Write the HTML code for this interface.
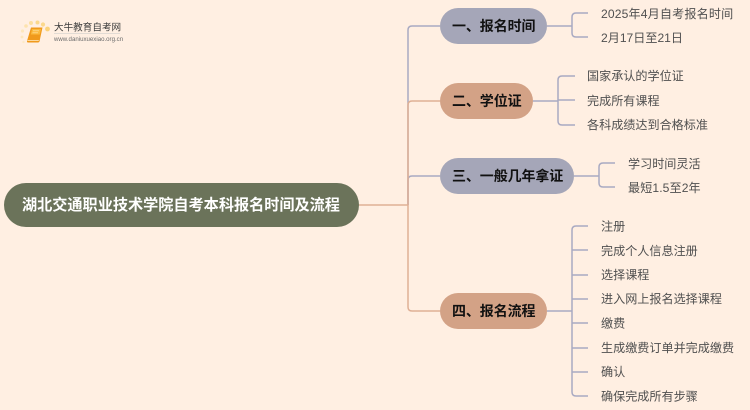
<!DOCTYPE html>
<html lang="zh-CN"><head><meta charset="utf-8"><title>湖北交通职业技术学院自考本科报名时间及流程</title>
<style>
html,body{margin:0;padding:0;background:#ffefe2}
svg{display:block;filter:blur(.3px)}
text{font-family:"Liberation Sans","Noto Sans CJK SC",sans-serif}
.b{font-size:14px;font-weight:700;fill:#111;letter-spacing:-.1px}
.l{font-size:12.100px;fill:#505050}
.g{fill:none;stroke:#a9aac2;stroke-width:1.500}
.o{fill:none;stroke:#dfb095;stroke-width:1.500}
</style></head><body>
<svg width="750" height="410" viewBox="0 0 750 410" xmlns="http://www.w3.org/2000/svg">
<rect width="750" height="410" fill="#ffefe2"/>
<!-- logo -->
<g>
<circle cx="47.500" cy="29" r="2.400" fill="#fbd27a"/><circle cx="43" cy="24.500" r="2.100" fill="#fbd88c"/><circle cx="37.500" cy="22.500" r="2" fill="#fbd88c"/><circle cx="31" cy="23" r="2" fill="#fcdf9f"/><circle cx="26" cy="26" r="1.800" fill="#fde3ae"/><circle cx="22.500" cy="31" r="1.600" fill="#fde7bd"/><circle cx="22" cy="37" r="1.400" fill="#fde7bd"/><circle cx="23.500" cy="42" r="1.200" fill="#fdeac8"/>
<path d="M31 27.500H42.500L39.500 41.500Q39 42.500 38 42.500H28Q26.800 42.500 27 41Z" fill="#f09a1c"/>
<path d="M32 29H41L39.800 34.500H30.800Z" fill="#fbb93c"/>
<path d="M33 30.800H39M32.500 32.800H38" stroke="#fde2a8" stroke-width=".7"/>
<path d="M27.500 40.500H38.800" stroke="#fbd9a0" stroke-width="1"/>
<text x="54" y="30.500" font-size="9.600" fill="#3c3c3c">大牛教育自考网</text>
<path d="M54 33.500H120" stroke="#d9d5cf" stroke-width=".8"/>
<text x="54" y="41" font-size="6.100" fill="#6c6c6c">www.daniuxuexiao.org.cn</text>
</g>
<!-- trunk connectors -->
<path class="g" d="M408 205V30Q408 26 412 26H440"/>
<path class="g" d="M408 205V180Q408 176 412 176H440"/>
<path class="o" d="M408 205V105Q408 101 412 101H440"/>
<path class="o" d="M359 205H408V307Q408 311 412 311H440"/>
<!-- leaf connectors -->
<path class="g" d="M547 26H572M588 13H576Q572 13 572 17V33Q572 37 576 37H588"/>
<path class="g" d="M533 101H558M575 76H562Q558 76 558 80V121Q558 125 562 125H575M558 100H575"/>
<path class="g" d="M574 176H599M615 163H603Q599 163 599 167V183Q599 187 603 187H615"/>
<path class="g" d="M547 311H572M588 226H576Q572 226 572 230V392Q572 396 576 396H588M572 250H588M572 275H588M572 299H588M572 323H588M572 348H588M572 372H588"/>
<!-- root -->
<rect x="4" y="183" width="355" height="44" rx="22" fill="#6b735a"/>
<text x="22" y="210" font-size="15.150" font-weight="700" fill="#fff">湖北交通职业技术学院自考本科报名时间及流程</text>
<!-- branches -->
<rect x="440" y="8" width="107" height="36" rx="18" fill="#a5a6b8"/>
<text class="b" x="452" y="31">一、报名时间</text>
<rect x="440" y="83" width="93" height="36" rx="18" fill="#d3a286"/>
<text class="b" x="452" y="106">二、学位证</text>
<rect x="440" y="158" width="134" height="36" rx="18" fill="#a5a6b8"/>
<text class="b" x="452" y="181">三、一般几年拿证</text>
<rect x="440" y="293" width="107" height="36" rx="18" fill="#d3a286"/>
<text class="b" x="452" y="316">四、报名流程</text>
<!-- leaves -->
<text class="l" x="601" y="18" letter-spacing=".15">2025年4月自考报名时间</text>
<text class="l" x="601" y="42">2月17日至21日</text>
<text class="l" x="587" y="80">国家承认的学位证</text>
<text class="l" x="587" y="105">完成所有课程</text>
<text class="l" x="587" y="129">各科成绩达到合格标准</text>
<text class="l" x="628" y="168">学习时间灵活</text>
<text class="l" x="628" y="192" letter-spacing=".1">最短1.5至2年</text>
<text class="l" x="601" y="230.500">注册</text>
<text class="l" x="601" y="255">完成个人信息注册</text>
<text class="l" x="601" y="279">选择课程</text>
<text class="l" x="601" y="303">进入网上报名选择课程</text>
<text class="l" x="601" y="327.500">缴费</text>
<text class="l" x="601" y="352">生成缴费订单并完成缴费</text>
<text class="l" x="601" y="376">确认</text>
<text class="l" x="601" y="400.500">确保完成所有步骤</text>
</svg>
</body></html>
